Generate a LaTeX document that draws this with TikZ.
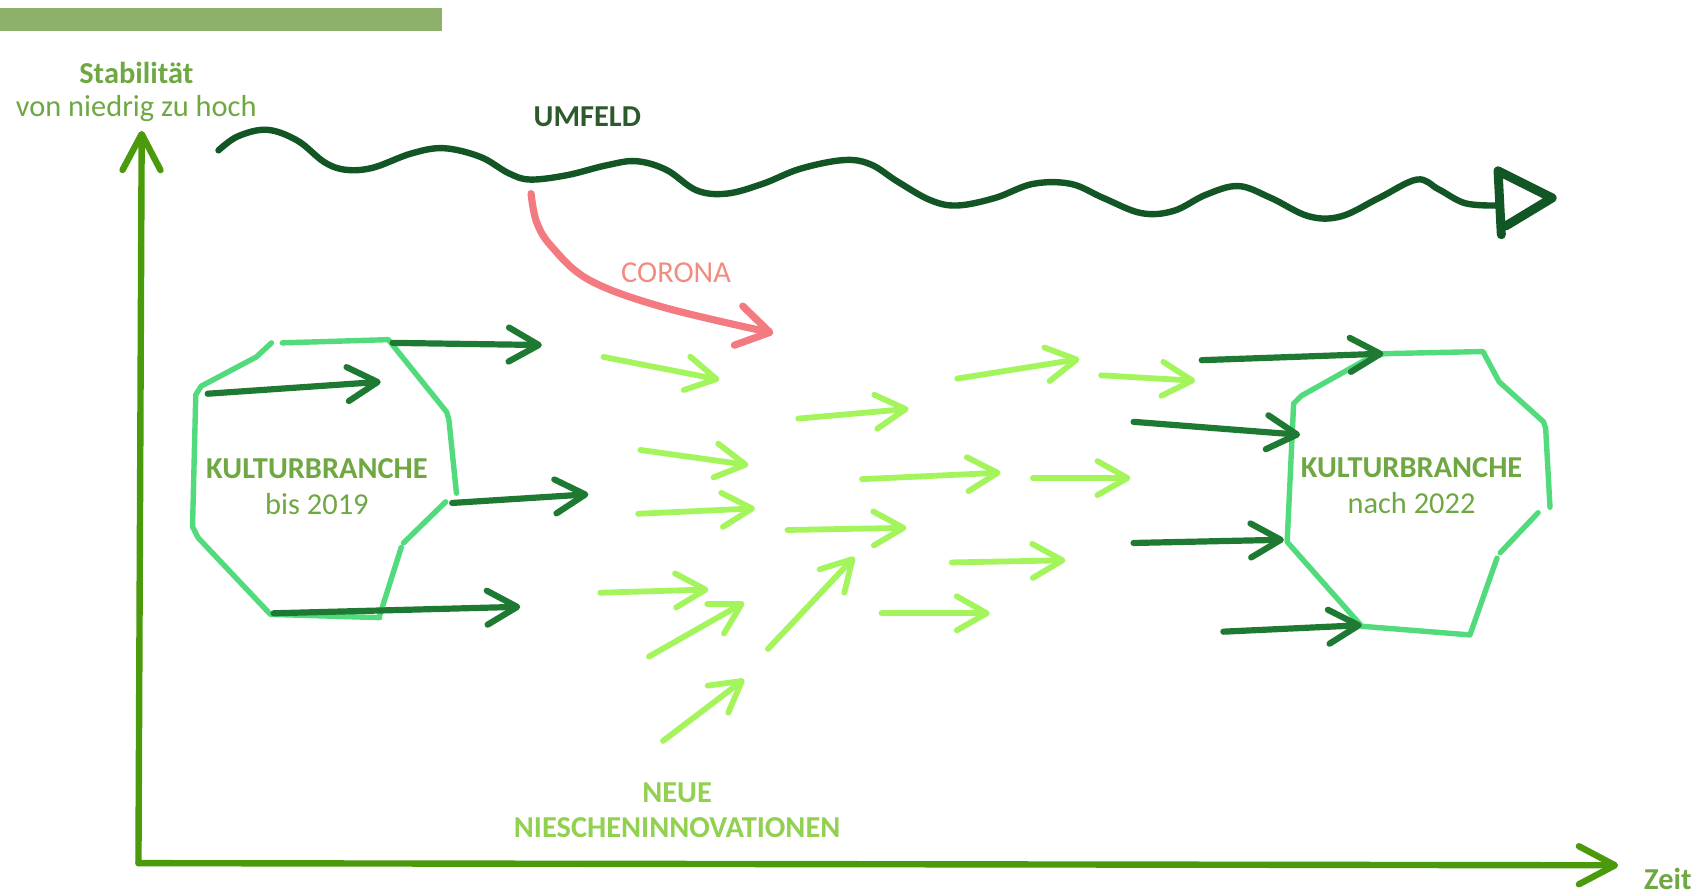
\documentclass[tikz,border=0pt]{standalone}
\usepackage{fontspec}
\setmainfont{Carlito}
\usetikzlibrary{arrows.meta}
\definecolor{barc}{HTML}{8DB06B}
\definecolor{lbl}{HTML}{6FA843}
\definecolor{wavec}{HTML}{135626}
\definecolor{umf}{HTML}{2D5A2D}
\definecolor{axisc}{HTML}{4A9A0C}
\definecolor{dkc}{HTML}{1E7A33}
\definecolor{octc}{HTML}{52DB7C}
\definecolor{ltc}{HTML}{A4F55C}
\definecolor{pinkc}{HTML}{F47A82}
\definecolor{corc}{HTML}{F28C80}
\definecolor{nischc}{HTML}{92D050}
\begin{document}
\begin{tikzpicture}[x=0.5408pt,y=-0.5408pt,line cap=round,line join=round,
  lab/.style={font=\fontsize{15.2}{18}\selectfont,inner sep=0pt},
  blab/.style={font=\fontsize{15.2}{18}\selectfont\bfseries,inner sep=0pt},
  axisline/.style={draw=axisc,line width=3.2pt,-{Straight Barb[length=18pt,width=19pt,line cap=round,line join=round]}},
  wavestroke/.style={draw=wavec,line width=3.2pt},
  octo/.style={draw=octc,line width=2.7pt},
  dkarrow/.style={draw=dkc,line width=3.1pt,-{Straight Barb[length=15pt,width=17pt,line cap=round,line join=round]}},
  ltarrow/.style={draw=ltc,line width=2.9pt,-{Straight Barb[length=15pt,width=17pt,line cap=round,line join=round]}},
  corarrow/.style={draw=pinkc,line width=3.6pt,-{Straight Barb[length=16pt,width=20pt,line cap=round,line join=round]}}]
\useasboundingbox (0,0) rectangle (1568,827);
\fill[white] (0,0) rectangle (1568,827);
% top bar
\fill[barc] (0,7.5) rectangle (409,28.5);
% labels
\node[blab,text=lbl] (stab) at (126,67) {Stabilität};
\node[lab,text=lbl] (stabsub) at (126,100) {von niedrig zu hoch};
\node[blab,text=umf] (umfeld) at (543,108) {UMFELD};
\node[lab,text=corc] (corona) at (625,252) {CORONA};
\node[blab,text=lbl] (kb1) at (293,433) {KULTURBRANCHE};
\node[lab,text=lbl] (kb1s) at (293,466) {bis 2019};
\node[blab,text=lbl] (kb2) at (1305,432) {KULTURBRANCHE};
\node[lab,text=lbl] (kb2s) at (1305,465) {nach 2022};
\node[blab,text=nischc] (neue) at (626,733) {NEUE};
\node[blab,text=nischc] (nisch) at (626,765) {NIESCHENINNOVATIONEN};
\node[blab,text=lbl] (zeit) at (1542,813) {Zeit};
% axes
\coordinate (O) at (128,798);
\coordinate (ytop) at (131,121);
\coordinate (xend) at (1496,800);
\draw[axisline] (O) -- (ytop);
\draw[axisline] (O) -- (xend);
% wave
\draw[wavestroke] plot[smooth,tension=0.6] coordinates {(202,139) (220,126) (247,120) (275,130) (300,150) (320,157) (345,155) (380,142) (410,137) (444,145) (470,160) (490,166) (524,162) (560,153) (588,149) (616,157) (644,176) (672,179) (705,170) (740,156) (780,148) (805,152) (830,168) (860,185) (885,190) (920,183) (955,170) (990,170) (1020,183) (1055,197) (1085,195) (1115,180) (1145,172) (1175,183) (1210,200) (1240,200) (1275,183) (1310,166) (1330,175) (1355,188) (1386,190)};
\draw[draw=wavec,line width=4.5pt] (1388,217) -- (1385,158) -- (1435,183) -- (1392,209);
% corona
\draw[corarrow] plot[smooth,tension=0.6] coordinates {(491,179) (496,205) (510,228) (545,259) (613,284) (715,308)};
% left octagon
\draw[octo] (251,317) -- (237,330) -- (186,357) -- (181,365) -- (178,487) -- (183,497) -- (250,568) -- (351,571);
\draw[octo] (261,317) -- (359,314) -- (413,381) -- (415,388) -- (422,456);
\draw[octo] (412,464) -- (373,502);
\draw[octo] (371,506) -- (351,569);
% right octagon
\draw[octo] (1279,327) -- (1371,325) -- (1386,353) -- (1427,390) -- (1429,396) -- (1433,469);
\draw[octo] (1422,474) -- (1387,511);
\draw[octo] (1384,516) -- (1359,587) -- (1259,579) -- (1190,501) -- (1196,373) -- (1203,366) -- (1262,333) -- (1279,327);
% dark arrows
\draw[dkarrow] (192,364) -- (352,353);
\draw[dkarrow] (363,317) -- (501,319);
\draw[dkarrow] (418,465) -- (544,457);
\draw[dkarrow] (253,567) -- (481,561);
\draw[dkarrow] (1111,333) -- (1279,327);
\draw[dkarrow] (1048,390) -- (1202,402);
\draw[dkarrow] (1048,502) -- (1187,499);
\draw[dkarrow] (1131,584) -- (1259,578);
% light arrows
\draw[ltarrow] (558,330) -- (665,351);
\draw[ltarrow] (738,387) -- (840,378);
\draw[ltarrow] (885,350) -- (998,332);
\draw[ltarrow] (1018,347) -- (1105,352);
\draw[ltarrow] (592,416) -- (692,430);
\draw[ltarrow] (590,475) -- (698,470);
\draw[ltarrow] (797,443) -- (925,437);
\draw[ltarrow] (955,442) -- (1045,442);
\draw[ltarrow] (728,490) -- (838,488);
\draw[ltarrow] (880,520) -- (985,518);
\draw[ltarrow] (555,548) -- (655,545);
\draw[ltarrow] (600,607) -- (688,557);
\draw[ltarrow] (710,600) -- (790,515);
\draw[ltarrow] (815,567) -- (915,567);
\draw[ltarrow] (613,685) -- (688,628);
\end{tikzpicture}
\end{document}
